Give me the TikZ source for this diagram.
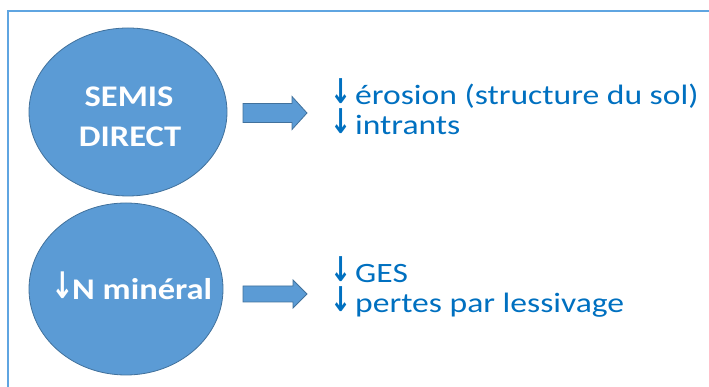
\documentclass[tikz,border=0pt]{standalone}
\usepackage{fontspec}
\usepackage{graphicx}
\setmainfont{Carlito}
\newfontfamily\arrowfont{DejaVu Sans}
\usetikzlibrary{shapes.geometric}
\definecolor{ellfill}{RGB}{91,155,213}
\definecolor{elldraw}{RGB}{65,113,156}
\definecolor{txtblue}{RGB}{0,112,192}
\definecolor{frameblue}{RGB}{95,165,225}
\newcommand{\wideA}[1]{\scalebox{1.15}[1]{#1}}
\newcommand{\wideB}[1]{\scalebox{1.2}[1]{#1}}
\newcommand{\dnarrow}{\makebox[12pt]{\smash{\raisebox{1.5pt}{\scalebox{0.9}[1.22]{\arrowfont\bfseries ↓}}}}}
\tikzset{
  bubble/.style={ellipse, fill=ellfill, draw=elldraw, line width=0.8pt, inner sep=0pt},
  bubtext/.style={text=white, font=\fontsize{30}{36}\selectfont\bfseries, anchor=base, inner sep=0pt},
  effect/.style={text=txtblue, font=\fontsize{28}{34}\selectfont, anchor=base west, inner sep=0pt},
  blockarrow/.style={fill=ellfill, draw=elldraw, line width=0.8pt, line join=miter}
}
\begin{document}
\begin{tikzpicture}[x=1pt,y=1pt]
\useasboundingbox (0,0) rectangle (709,387);
% frame
\draw[frameblue, line width=2.5pt] (8,0) -- (8,376) -- (709,376);
% ellipses
\node[bubble, minimum width=198, minimum height=168] (e1) at (128,275) {};
\node[bubble, minimum width=194, minimum height=172] (e2) at (126,98) {};
\node[bubtext] (t1a) at (129,280) {\wideA{SEMIS}};
\node[bubtext] (t1b) at (130,240) {\wideA{DIRECT}};
\node[bubtext, anchor=base west] (t2) at (57,87) {\dnarrow\hspace{3pt}\wideA{N minéral}};
% block arrows
\draw[blockarrow] (243,264.5) -- (292,264.5) -- (292,257.5) -- (307,274) -- (292,290.5) -- (292,283.5) -- (243,283.5) -- cycle;
\draw[blockarrow] (243,85) -- (293,85) -- (293,79) -- (307,93) -- (293,107) -- (293,101) -- (243,101) -- cycle;
% effects
\node[effect] (r1) at (335,282) {\dnarrow\hspace{8pt}\wideB{érosion (structure du sol)}};
\node[effect] (r2) at (335,252) {\dnarrow\hspace{8pt}\wideB{intrants}};
\node[effect] (r3) at (335,104) {\dnarrow\hspace{8pt}\wideB{GES}};
\node[effect] (r4) at (335,74) {\dnarrow\hspace{8pt}\wideB{pertes par lessivage}};
\end{tikzpicture}
\end{document}
